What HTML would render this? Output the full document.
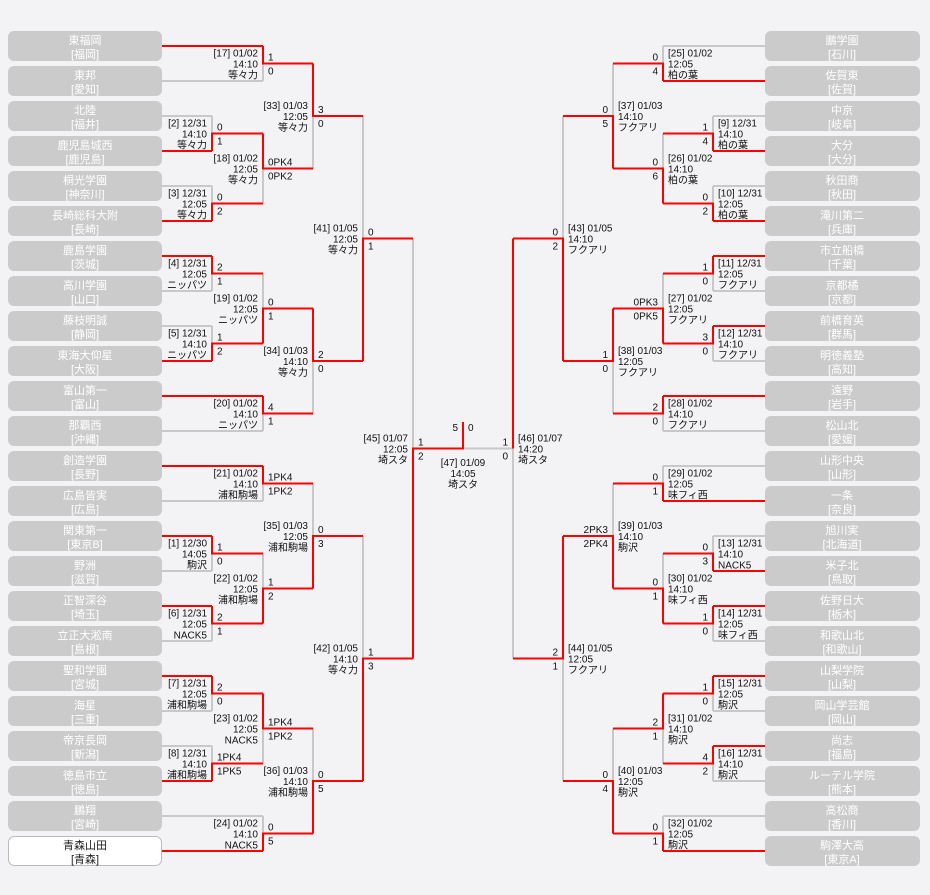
<!DOCTYPE html>
<html><head><meta charset="utf-8"><style>
html,body{margin:0;padding:0;background:#f3f2f5;}
svg{display:block;font-family:"Liberation Sans","Noto Sans CJK JP",sans-serif;}
.t{font-size:10px;fill:#111;}
.b{font-size:11px;fill:#fff;text-anchor:middle;}
.bk{font-size:11px;fill:#222;text-anchor:middle;}
.bx{fill:#cbcbcb;}
</style></head><body>
<svg width="930" height="895" viewBox="0 0 930 895" xmlns="http://www.w3.org/2000/svg">
<rect width="930" height="895" fill="#f3f2f5"/>
<!-- left boxes -->
<g>
<rect class="bx" x="8" y="31" width="154" height="30" rx="6"/><text class="b" x="85" y="44">東福岡</text><text class="b" x="85" y="58">[福岡]</text>
<rect class="bx" x="8" y="66" width="154" height="30" rx="6"/><text class="b" x="85" y="79">東邦</text><text class="b" x="85" y="93">[愛知]</text>
<rect class="bx" x="8" y="101" width="154" height="30" rx="6"/><text class="b" x="85" y="114">北陸</text><text class="b" x="85" y="128">[福井]</text>
<rect class="bx" x="8" y="136" width="154" height="30" rx="6"/><text class="b" x="85" y="149">鹿児島城西</text><text class="b" x="85" y="163">[鹿児島]</text>
<rect class="bx" x="8" y="171" width="154" height="30" rx="6"/><text class="b" x="85" y="184">桐光学園</text><text class="b" x="85" y="198">[神奈川]</text>
<rect class="bx" x="8" y="206" width="154" height="30" rx="6"/><text class="b" x="85" y="219">長崎総科大附</text><text class="b" x="85" y="233">[長崎]</text>
<rect class="bx" x="8" y="241" width="154" height="30" rx="6"/><text class="b" x="85" y="254">鹿島学園</text><text class="b" x="85" y="268">[茨城]</text>
<rect class="bx" x="8" y="276" width="154" height="30" rx="6"/><text class="b" x="85" y="289">高川学園</text><text class="b" x="85" y="303">[山口]</text>
<rect class="bx" x="8" y="311" width="154" height="30" rx="6"/><text class="b" x="85" y="324">藤枝明誠</text><text class="b" x="85" y="338">[静岡]</text>
<rect class="bx" x="8" y="346" width="154" height="30" rx="6"/><text class="b" x="85" y="359">東海大仰星</text><text class="b" x="85" y="373">[大阪]</text>
<rect class="bx" x="8" y="381" width="154" height="30" rx="6"/><text class="b" x="85" y="394">富山第一</text><text class="b" x="85" y="408">[富山]</text>
<rect class="bx" x="8" y="416" width="154" height="30" rx="6"/><text class="b" x="85" y="429">那覇西</text><text class="b" x="85" y="443">[沖縄]</text>
<rect class="bx" x="8" y="451" width="154" height="30" rx="6"/><text class="b" x="85" y="464">創造学園</text><text class="b" x="85" y="478">[長野]</text>
<rect class="bx" x="8" y="486" width="154" height="30" rx="6"/><text class="b" x="85" y="499">広島皆実</text><text class="b" x="85" y="513">[広島]</text>
<rect class="bx" x="8" y="521" width="154" height="30" rx="6"/><text class="b" x="85" y="534">関東第一</text><text class="b" x="85" y="548">[東京B]</text>
<rect class="bx" x="8" y="556" width="154" height="30" rx="6"/><text class="b" x="85" y="569">野洲</text><text class="b" x="85" y="583">[滋賀]</text>
<rect class="bx" x="8" y="591" width="154" height="30" rx="6"/><text class="b" x="85" y="604">正智深谷</text><text class="b" x="85" y="618">[埼玉]</text>
<rect class="bx" x="8" y="626" width="154" height="30" rx="6"/><text class="b" x="85" y="639">立正大淞南</text><text class="b" x="85" y="653">[島根]</text>
<rect class="bx" x="8" y="661" width="154" height="30" rx="6"/><text class="b" x="85" y="674">聖和学園</text><text class="b" x="85" y="688">[宮城]</text>
<rect class="bx" x="8" y="696" width="154" height="30" rx="6"/><text class="b" x="85" y="709">海星</text><text class="b" x="85" y="723">[三重]</text>
<rect class="bx" x="8" y="731" width="154" height="30" rx="6"/><text class="b" x="85" y="744">帝京長岡</text><text class="b" x="85" y="758">[新潟]</text>
<rect class="bx" x="8" y="766" width="154" height="30" rx="6"/><text class="b" x="85" y="779">徳島市立</text><text class="b" x="85" y="793">[徳島]</text>
<rect class="bx" x="8" y="801" width="154" height="30" rx="6"/><text class="b" x="85" y="814">鵬翔</text><text class="b" x="85" y="828">[宮崎]</text>
<rect x="8.5" y="836.5" width="153" height="29" rx="6" fill="#fff" stroke="#bbb"/><text class="bk" x="85" y="849">青森山田</text><text class="bk" x="85" y="863">[青森]</text>
</g>
<!-- right boxes -->
<g>
<rect class="bx" x="765" y="31" width="155" height="30" rx="6"/><text class="b" x="842" y="44">鵬学園</text><text class="b" x="842" y="58">[石川]</text>
<rect class="bx" x="765" y="66" width="155" height="30" rx="6"/><text class="b" x="842" y="79">佐賀東</text><text class="b" x="842" y="93">[佐賀]</text>
<rect class="bx" x="765" y="101" width="155" height="30" rx="6"/><text class="b" x="842" y="114">中京</text><text class="b" x="842" y="128">[岐阜]</text>
<rect class="bx" x="765" y="136" width="155" height="30" rx="6"/><text class="b" x="842" y="149">大分</text><text class="b" x="842" y="163">[大分]</text>
<rect class="bx" x="765" y="171" width="155" height="30" rx="6"/><text class="b" x="842" y="184">秋田商</text><text class="b" x="842" y="198">[秋田]</text>
<rect class="bx" x="765" y="206" width="155" height="30" rx="6"/><text class="b" x="842" y="219">滝川第二</text><text class="b" x="842" y="233">[兵庫]</text>
<rect class="bx" x="765" y="241" width="155" height="30" rx="6"/><text class="b" x="842" y="254">市立船橋</text><text class="b" x="842" y="268">[千葉]</text>
<rect class="bx" x="765" y="276" width="155" height="30" rx="6"/><text class="b" x="842" y="289">京都橘</text><text class="b" x="842" y="303">[京都]</text>
<rect class="bx" x="765" y="311" width="155" height="30" rx="6"/><text class="b" x="842" y="324">前橋育英</text><text class="b" x="842" y="338">[群馬]</text>
<rect class="bx" x="765" y="346" width="155" height="30" rx="6"/><text class="b" x="842" y="359">明徳義塾</text><text class="b" x="842" y="373">[高知]</text>
<rect class="bx" x="765" y="381" width="155" height="30" rx="6"/><text class="b" x="842" y="394">遠野</text><text class="b" x="842" y="408">[岩手]</text>
<rect class="bx" x="765" y="416" width="155" height="30" rx="6"/><text class="b" x="842" y="429">松山北</text><text class="b" x="842" y="443">[愛媛]</text>
<rect class="bx" x="765" y="451" width="155" height="30" rx="6"/><text class="b" x="842" y="464">山形中央</text><text class="b" x="842" y="478">[山形]</text>
<rect class="bx" x="765" y="486" width="155" height="30" rx="6"/><text class="b" x="842" y="499">一条</text><text class="b" x="842" y="513">[奈良]</text>
<rect class="bx" x="765" y="521" width="155" height="30" rx="6"/><text class="b" x="842" y="534">旭川実</text><text class="b" x="842" y="548">[北海道]</text>
<rect class="bx" x="765" y="556" width="155" height="30" rx="6"/><text class="b" x="842" y="569">米子北</text><text class="b" x="842" y="583">[鳥取]</text>
<rect class="bx" x="765" y="591" width="155" height="30" rx="6"/><text class="b" x="842" y="604">佐野日大</text><text class="b" x="842" y="618">[栃木]</text>
<rect class="bx" x="765" y="626" width="155" height="30" rx="6"/><text class="b" x="842" y="639">和歌山北</text><text class="b" x="842" y="653">[和歌山]</text>
<rect class="bx" x="765" y="661" width="155" height="30" rx="6"/><text class="b" x="842" y="674">山梨学院</text><text class="b" x="842" y="688">[山梨]</text>
<rect class="bx" x="765" y="696" width="155" height="30" rx="6"/><text class="b" x="842" y="709">岡山学芸館</text><text class="b" x="842" y="723">[岡山]</text>
<rect class="bx" x="765" y="731" width="155" height="30" rx="6"/><text class="b" x="842" y="744">尚志</text><text class="b" x="842" y="758">[福島]</text>
<rect class="bx" x="765" y="766" width="155" height="30" rx="6"/><text class="b" x="842" y="779">ルーテル学院</text><text class="b" x="842" y="793">[熊本]</text>
<rect class="bx" x="765" y="801" width="155" height="30" rx="6"/><text class="b" x="842" y="814">高松商</text><text class="b" x="842" y="828">[香川]</text>
<rect class="bx" x="765" y="836" width="155" height="30" rx="6"/><text class="b" x="842" y="849">駒澤大高</text><text class="b" x="842" y="863">[東京A]</text>
</g>
<!-- gray lines -->
<path fill="none" stroke="#c8c8c8" stroke-width="2" d="
M162 81H263 M162 116H212 M162 186H212 M162 291H212 M162 326H212 M162 431H263 M162 501H263 M162 571H212 M162 641H212 M162 711H212 M162 746H212 M162 816H263
M212 116V151 M212 186V221 M212 256V291 M212 326V361 M212 536V571 M212 606V641 M212 676V711 M212 746V781
M263 46V81 M263 133.5V203.5 M263 273.5V343.5 M263 396V431 M263 466V501 M263 553.5V623.5 M263 693.5V763.5 M263 816V851
M313 63.5V168.5 M313 308.5V413.5 M313 483.5V588.5 M313 728.5V833.5 M363 116V361 M363 536V781 M413 238.5V658.5
M463 448.5H513
M765 46H663 M765 116H713 M765 186H713 M765 291H713 M765 361H713 M765 431H663 M765 466H663 M765 536H713 M765 641H713 M765 711H713 M765 781H713 M765 816H663
M713 116V151 M713 186V221 M713 256V291 M713 326V361 M713 536V571 M713 606V641 M713 676V711 M713 746V781
M663 46V81 M663 133.5V203.5 M663 273.5V343.5 M663 396V431 M663 466V501 M663 553.5V623.5 M663 693.5V763.5 M663 816V851
M613 63.5V168.5 M613 308.5V413.5 M613 483.5V588.5 M613 728.5V833.5 M563 116V361 M563 536V781 M513 238.5V658.5"/>
<!-- red lines -->
<path fill="none" stroke="#ff0000" stroke-width="2" d="
M162 46H263 M162 151H212 M162 221H212 M162 256H212 M162 361H212 M162 396H263 M162 466H263 M162 536H212 M162 606H212 M162 676H212 M162 781H212 M162 851H263
M212 151V133.5H263 M212 221V203.5H263 M212 256V273.5H263 M212 361V343.5H263 M212 536V553.5H263 M212 606V623.5H263 M212 676V693.5H263 M212 781V763.5H263
M263 46V63.5H313 M263 133.5V168.5H313 M263 343.5V308.5H313 M263 396V413.5H313 M263 466V483.5H313 M263 623.5V588.5H313 M263 693.5V728.5H313 M263 851V833.5H313
M313 63.5V116H363 M313 308.5V361H363 M313 588.5V536H363 M313 833.5V781H363
M363 361V238.5H413 M363 781V658.5H413 M413 658.5V448.5H463V422
M765 81H663 M765 151H713 M765 221H713 M765 256H713 M765 326H713 M765 396H663 M765 501H663 M765 571H713 M765 606H713 M765 676H713 M765 746H713 M765 851H663
M713 151V133.5H663 M713 221V203.5H663 M713 256V273.5H663 M713 326V343.5H663 M713 571V553.5H663 M713 606V623.5H663 M713 676V693.5H663 M713 746V763.5H663
M663 81V63.5H613 M663 203.5V168.5H613 M663 343.5V308.5H613 M663 396V413.5H613 M663 501V483.5H613 M663 623.5V588.5H613 M663 693.5V728.5H613 M663 851V833.5H613
M613 168.5V116H563 M613 308.5V361H563 M613 588.5V536H563 M613 833.5V781H563
M563 361V238.5H513 M563 536V658.5H513 M513 238.5V448.5"/>
<!-- left labels -->
<g class="t" text-anchor="end">
<text x="258" y="56.5">[17] 01/02<tspan x="258" dy="11">14:10</tspan><tspan x="258" dy="11">等々力</tspan></text>
<text x="207" y="126.5">[2] 12/31<tspan x="207" dy="11">14:10</tspan><tspan x="207" dy="11">等々力</tspan></text>
<text x="258" y="161.5">[18] 01/02<tspan x="258" dy="11">12:05</tspan><tspan x="258" dy="11">等々力</tspan></text>
<text x="207" y="196.5">[3] 12/31<tspan x="207" dy="11">12:05</tspan><tspan x="207" dy="11">等々力</tspan></text>
<text x="308" y="109">[33] 01/03<tspan x="308" dy="11">12:05</tspan><tspan x="308" dy="11">等々力</tspan></text>
<text x="358" y="231.5">[41] 01/05<tspan x="358" dy="11">12:05</tspan><tspan x="358" dy="11">等々力</tspan></text>
<text x="207" y="266.5">[4] 12/31<tspan x="207" dy="11">12:05</tspan><tspan x="207" dy="11">ニッパツ</tspan></text>
<text x="258" y="301.5">[19] 01/02<tspan x="258" dy="11">12:05</tspan><tspan x="258" dy="11">ニッパツ</tspan></text>
<text x="207" y="336.5">[5] 12/31<tspan x="207" dy="11">14:10</tspan><tspan x="207" dy="11">ニッパツ</tspan></text>
<text x="308" y="354">[34] 01/03<tspan x="308" dy="11">14:10</tspan><tspan x="308" dy="11">等々力</tspan></text>
<text x="258" y="406.5">[20] 01/02<tspan x="258" dy="11">14:10</tspan><tspan x="258" dy="11">ニッパツ</tspan></text>
<text x="408" y="441.5">[45] 01/07<tspan x="408" dy="11">12:05</tspan><tspan x="408" dy="11">埼スタ</tspan></text>
<text x="258" y="476.5">[21] 01/02<tspan x="258" dy="11">14:10</tspan><tspan x="258" dy="11">浦和駒場</tspan></text>
<text x="308" y="529">[35] 01/03<tspan x="308" dy="11">12:05</tspan><tspan x="308" dy="11">浦和駒場</tspan></text>
<text x="207" y="546.5">[1] 12/30<tspan x="207" dy="11">14:05</tspan><tspan x="207" dy="11">駒沢</tspan></text>
<text x="258" y="581.5">[22] 01/02<tspan x="258" dy="11">12:05</tspan><tspan x="258" dy="11">浦和駒場</tspan></text>
<text x="207" y="616.5">[6] 12/31<tspan x="207" dy="11">12:05</tspan><tspan x="207" dy="11">NACK5</tspan></text>
<text x="358" y="651.5">[42] 01/05<tspan x="358" dy="11">14:10</tspan><tspan x="358" dy="11">等々力</tspan></text>
<text x="207" y="686.5">[7] 12/31<tspan x="207" dy="11">12:05</tspan><tspan x="207" dy="11">浦和駒場</tspan></text>
<text x="258" y="721.5">[23] 01/02<tspan x="258" dy="11">12:05</tspan><tspan x="258" dy="11">NACK5</tspan></text>
<text x="207" y="756.5">[8] 12/31<tspan x="207" dy="11">14:10</tspan><tspan x="207" dy="11">浦和駒場</tspan></text>
<text x="308" y="774">[36] 01/03<tspan x="308" dy="11">14:10</tspan><tspan x="308" dy="11">浦和駒場</tspan></text>
<text x="258" y="826.5">[24] 01/02<tspan x="258" dy="11">14:10</tspan><tspan x="258" dy="11">NACK5</tspan></text>
<text x="458" y="431">5</text>
</g>
<!-- left scores -->
<g class="t">
<text x="268" y="60.5">1</text><text x="268" y="74.5">0</text>
<text x="217" y="130.5">0</text><text x="217" y="144.5">1</text>
<text x="268" y="165.5">0PK4</text><text x="268" y="179.5">0PK2</text>
<text x="217" y="200.5">0</text><text x="217" y="214.5">2</text>
<text x="318" y="113">3</text><text x="318" y="127">0</text>
<text x="368" y="235.5">0</text><text x="368" y="249.5">1</text>
<text x="217" y="270.5">2</text><text x="217" y="284.5">1</text>
<text x="268" y="305.5">0</text><text x="268" y="319.5">1</text>
<text x="217" y="340.5">1</text><text x="217" y="354.5">2</text>
<text x="318" y="358">2</text><text x="318" y="372">0</text>
<text x="268" y="410.5">4</text><text x="268" y="424.5">1</text>
<text x="418" y="445.5">1</text><text x="418" y="459.5">2</text>
<text x="268" y="480.5">1PK4</text><text x="268" y="494.5">1PK2</text>
<text x="318" y="533">0</text><text x="318" y="547">3</text>
<text x="217" y="550.5">1</text><text x="217" y="564.5">0</text>
<text x="268" y="585.5">1</text><text x="268" y="599.5">2</text>
<text x="217" y="620.5">2</text><text x="217" y="634.5">1</text>
<text x="368" y="655.5">1</text><text x="368" y="669.5">3</text>
<text x="217" y="690.5">2</text><text x="217" y="704.5">0</text>
<text x="268" y="725.5">1PK4</text><text x="268" y="739.5">1PK2</text>
<text x="217" y="760.5">1PK4</text><text x="217" y="774.5">1PK5</text>
<text x="318" y="778">0</text><text x="318" y="792">5</text>
<text x="268" y="830.5">0</text><text x="268" y="844.5">5</text>
<text x="468" y="431">0</text>
</g>
<!-- right labels -->
<g class="t">
<text x="668" y="56.5">[25] 01/02<tspan x="668" dy="11">12:05</tspan><tspan x="668" dy="11">柏の葉</tspan></text>
<text x="618" y="109">[37] 01/03<tspan x="618" dy="11">14:10</tspan><tspan x="618" dy="11">フクアリ</tspan></text>
<text x="718" y="126.5">[9] 12/31<tspan x="718" dy="11">14:10</tspan><tspan x="718" dy="11">柏の葉</tspan></text>
<text x="668" y="161.5">[26] 01/02<tspan x="668" dy="11">14:10</tspan><tspan x="668" dy="11">柏の葉</tspan></text>
<text x="718" y="196.5">[10] 12/31<tspan x="718" dy="11">12:05</tspan><tspan x="718" dy="11">柏の葉</tspan></text>
<text x="568" y="231.5">[43] 01/05<tspan x="568" dy="11">14:10</tspan><tspan x="568" dy="11">フクアリ</tspan></text>
<text x="718" y="266.5">[11] 12/31<tspan x="718" dy="11">12:05</tspan><tspan x="718" dy="11">フクアリ</tspan></text>
<text x="668" y="301.5">[27] 01/02<tspan x="668" dy="11">12:05</tspan><tspan x="668" dy="11">フクアリ</tspan></text>
<text x="718" y="336.5">[12] 12/31<tspan x="718" dy="11">14:10</tspan><tspan x="718" dy="11">フクアリ</tspan></text>
<text x="618" y="354">[38] 01/03<tspan x="618" dy="11">12:05</tspan><tspan x="618" dy="11">フクアリ</tspan></text>
<text x="668" y="406.5">[28] 01/02<tspan x="668" dy="11">14:10</tspan><tspan x="668" dy="11">フクアリ</tspan></text>
<text x="518" y="441.5">[46] 01/07<tspan x="518" dy="11">14:20</tspan><tspan x="518" dy="11">埼スタ</tspan></text>
<text x="668" y="476.5">[29] 01/02<tspan x="668" dy="11">12:05</tspan><tspan x="668" dy="11">味フィ西</tspan></text>
<text x="618" y="529">[39] 01/03<tspan x="618" dy="11">14:10</tspan><tspan x="618" dy="11">駒沢</tspan></text>
<text x="718" y="546.5">[13] 12/31<tspan x="718" dy="11">14:10</tspan><tspan x="718" dy="11">NACK5</tspan></text>
<text x="668" y="581.5">[30] 01/02<tspan x="668" dy="11">14:10</tspan><tspan x="668" dy="11">味フィ西</tspan></text>
<text x="718" y="616.5">[14] 12/31<tspan x="718" dy="11">12:05</tspan><tspan x="718" dy="11">味フィ西</tspan></text>
<text x="568" y="651.5">[44] 01/05<tspan x="568" dy="11">12:05</tspan><tspan x="568" dy="11">フクアリ</tspan></text>
<text x="718" y="686.5">[15] 12/31<tspan x="718" dy="11">12:05</tspan><tspan x="718" dy="11">駒沢</tspan></text>
<text x="668" y="721.5">[31] 01/02<tspan x="668" dy="11">14:10</tspan><tspan x="668" dy="11">駒沢</tspan></text>
<text x="718" y="756.5">[16] 12/31<tspan x="718" dy="11">14:10</tspan><tspan x="718" dy="11">駒沢</tspan></text>
<text x="618" y="774">[40] 01/03<tspan x="618" dy="11">12:05</tspan><tspan x="618" dy="11">駒沢</tspan></text>
<text x="668" y="826.5">[32] 01/02<tspan x="668" dy="11">12:05</tspan><tspan x="668" dy="11">駒沢</tspan></text>
</g>
<!-- right scores -->
<g class="t" text-anchor="end">
<text x="658" y="60.5">0</text><text x="658" y="74.5">4</text>
<text x="608" y="113">0</text><text x="608" y="127">5</text>
<text x="708" y="130.5">1</text><text x="708" y="144.5">4</text>
<text x="658" y="165.5">0</text><text x="658" y="179.5">6</text>
<text x="708" y="200.5">0</text><text x="708" y="214.5">2</text>
<text x="558" y="235.5">0</text><text x="558" y="249.5">2</text>
<text x="708" y="270.5">1</text><text x="708" y="284.5">0</text>
<text x="658" y="305.5">0PK3</text><text x="658" y="319.5">0PK5</text>
<text x="708" y="340.5">3</text><text x="708" y="354.5">0</text>
<text x="608" y="358">1</text><text x="608" y="372">0</text>
<text x="658" y="410.5">2</text><text x="658" y="424.5">0</text>
<text x="508" y="445.5">1</text><text x="508" y="459.5">0</text>
<text x="658" y="480.5">0</text><text x="658" y="494.5">1</text>
<text x="608" y="533">2PK3</text><text x="608" y="547">2PK4</text>
<text x="708" y="550.5">0</text><text x="708" y="564.5">3</text>
<text x="658" y="585.5">0</text><text x="658" y="599.5">1</text>
<text x="708" y="620.5">1</text><text x="708" y="634.5">0</text>
<text x="558" y="655.5">2</text><text x="558" y="669.5">1</text>
<text x="708" y="690.5">1</text><text x="708" y="704.5">0</text>
<text x="658" y="725.5">2</text><text x="658" y="739.5">1</text>
<text x="708" y="760.5">4</text><text x="708" y="774.5">2</text>
<text x="608" y="778">0</text><text x="608" y="792">4</text>
<text x="658" y="830.5">0</text><text x="658" y="844.5">1</text>
</g>
<!-- final label -->
<g class="t" text-anchor="middle">
<text x="463" y="466">[47] 01/09<tspan x="463" dy="11">14:05</tspan><tspan x="463" dy="11">埼スタ</tspan></text>
</g>
</svg>
</body></html>
